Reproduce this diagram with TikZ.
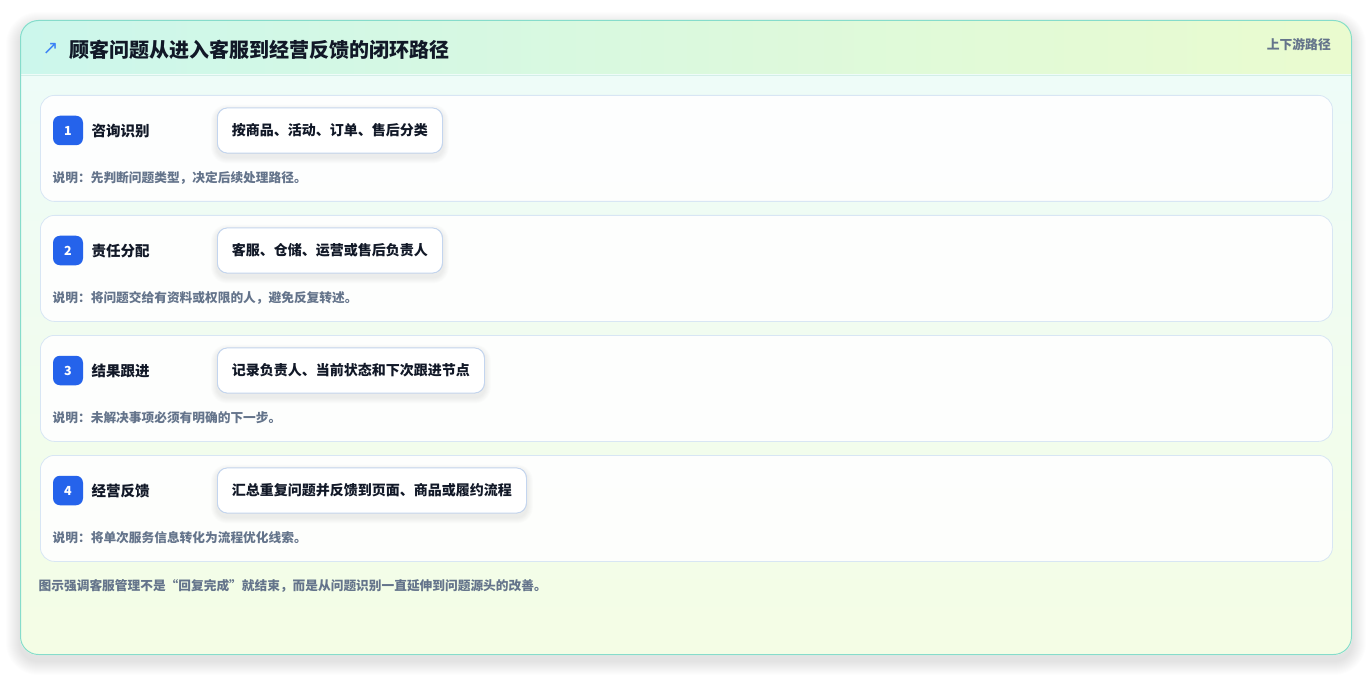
\documentclass[tikz,border=0pt]{standalone}
\usepackage{fontspec}
\setmainfont{Noto Sans CJK SC}
\newfontfamily\symfont{DejaVu Sans}
\definecolor{hdrL}{HTML}{CCF7EC}
\definecolor{hdrR}{HTML}{EAFBCF}
\definecolor{bodyT}{HTML}{EEFCF8}
\definecolor{bodyB}{HTML}{F4FDE5}
\definecolor{outerline}{HTML}{86DCCB}
\definecolor{hdrline}{HTML}{D3EEE8}
\definecolor{cardline}{HTML}{D8E6F4}
\definecolor{pillline}{HTML}{C3D5EF}
\definecolor{badgeblue}{HTML}{2563EB}
\definecolor{iconblue}{HTML}{3B82F6}
\definecolor{ink}{HTML}{111827}
\definecolor{muted}{HTML}{64748B}
\definecolor{shadowc}{HTML}{1E293B}
\newcommand\mystep[5]{%
  \node[stepcard, anchor=north west] (c#1) at (40,#2) {};
  \node[badge] (b#1) at (68,#2+35.5) {#1};
  \node[lab, anchor=west] (l#1) at (91.5,#2+36) {#3};
  \node[pill, anchor=west] (p#1) at (217,#2+35.5) {#4};
  \foreach \k in {1,...,6}{
    \fill[shadowc, opacity=0.012, rounded corners=10pt+\k pt]
      ([xshift=-\k pt, yshift=\k pt-3pt]p#1.north west) rectangle ([xshift=\k pt, yshift=-\k pt-4pt]p#1.south east);
  }
  \node[pill, anchor=west] at (217,#2+35.5) {#4};
  \node[desc, anchor=west] (d#1) at (52.5,#2+83) {#5};
}
\begin{document}
\begin{tikzpicture}[x=1pt,y=-1pt,
  stepcard/.style={draw=cardline, line width=0.8pt, fill=white, fill opacity=0.9, draw opacity=1,
    rounded corners=14pt, minimum width=1292pt, minimum height=106pt, inner sep=0pt},
  badge/.style={fill=badgeblue, rounded corners=7pt, minimum width=30pt, minimum height=29.5pt,
    inner sep=0pt, text=white, font=\fontsize{12.5}{14}\selectfont\bfseries},
  lab/.style={inner sep=0pt, text=ink, font=\fontsize{14.5}{16}\selectfont\bfseries},
  pill/.style={draw=pillline, line width=0.8pt, fill=white, rounded corners=10pt,
    minimum height=45pt, inner xsep=14.5pt, inner ysep=0pt, text=ink,
    font=\fontsize{14}{16}\selectfont\bfseries},
  desc/.style={inner sep=0pt, text=muted, font=\fontsize{12.7}{14}\selectfont\bfseries},
  titletext/.style={inner sep=0pt, text=ink, font=\fontsize{20}{22}\selectfont\bfseries},
  hdrright/.style={inner sep=0pt, text=muted, font=\fontsize{12.8}{14}\selectfont\bfseries},
  icon/.style={inner sep=0pt, text=iconblue, font=\fontsize{19}{20}\symfont},
]
\useasboundingbox (0,0) rectangle (1372,676);
\fill[white] (0,0) rectangle (1372,676);
% outer card soft shadow
\foreach \k in {1,...,14}{
  \fill[shadowc, opacity=0.006, rounded corners=18pt+\k pt]
    (20-\k,20-\k+6) rectangle (1352+\k,655+\k+6);
}
\fill[white, rounded corners=18pt] (20,20) rectangle (1352,655);
\begin{scope}
  \clip[rounded corners=18pt] (20,20) rectangle (1352,655);
  \shade[left color=hdrL, right color=hdrR] (20,20) rectangle (1352,75);
  \shade[top color=bodyT, bottom color=bodyB] (20,75) rectangle (1352,655);
  \draw[hdrline, line width=0.8pt] (20,75) -- (1352,75);
\end{scope}
\draw[outerline, line width=1pt, rounded corners=18pt] (20.5,20.5) rectangle (1351.5,654.5);
% header
\node[icon] (ic) at (50.5,48.5) {↗};
\node[titletext, anchor=west] (title) at (69.5,49.5) {顾客问题从进入客服到经营反馈的闭环路径};
\node[hdrright, anchor=east] (hr) at (1331,44.5) {上下游路径};
% steps
\mystep{1}{95}{咨询识别}{按商品、活动、订单、售后分类}{说明：先判断问题类型，决定后续处理路径。}
\mystep{2}{215}{责任分配}{客服、仓储、运营或售后负责人}{说明：将问题交给有资料或权限的人，避免反复转述。}
\mystep{3}{335}{结果跟进}{记录负责人、当前状态和下次跟进节点}{说明：未解决事项必须有明确的下一步。}
\mystep{4}{455}{经营反馈}{汇总重复问题并反馈到页面、商品或履约流程}{说明：将单次服务信息转化为流程优化线索。}
% footer
\node[desc, anchor=west] (foot) at (38.5,586) {图示强调客服管理不是“回复完成”就结束，而是从问题识别一直延伸到问题源头的改善。};
\end{tikzpicture}
\end{document}
